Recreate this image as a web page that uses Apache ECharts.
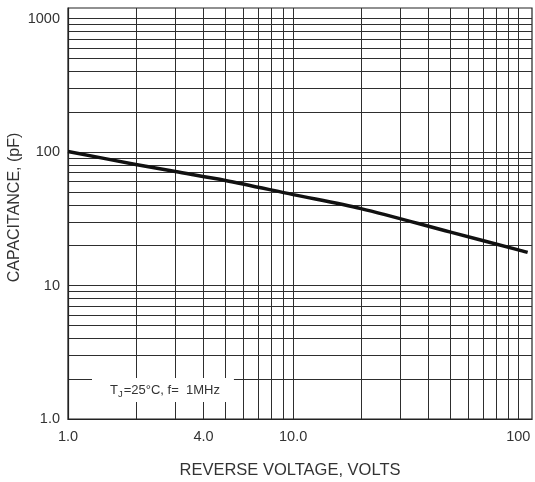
<!DOCTYPE html>
<html>
<head>
<meta charset="utf-8">
<script src="https://cdn.jsdelivr.net/npm/echarts@6/dist/echarts.min.js"></script>
<style>
  html, body { margin: 0; padding: 0; background: #fff; }
  #chart { width: 535px; height: 482px; }
</style>
</head>
<body>
<div id="chart"></div>
<script>
// Reverse voltage (V) and junction capacitance (pF), log-log
const voltage = [1, 2, 3, 5, 10, 20, 50, 100, 110];
const capacitance = [101, 80.7, 71.4, 61.3, 48, 37.7, 25.1, 18.5, 17.7];

// Graph-paper grid lines
const xGridValues = [1, 2, 3, 4, 5, 6, 7, 8, 9, 10, 20, 30, 40, 50, 60, 70, 80, 90, 100];
const yGridValues = [1, 2, 3, 4, 5, 6, 7, 8, 9, 10, 20, 30, 40, 50, 60, 70, 80, 90,
                     100, 200, 300, 400, 500, 600, 700, 800, 900, 1000];

// Labelled ticks
const xTickValues = [1, 4, 10, 100];
const xTickLabels = ['1.0', '4.0', '10.0', '100'];
const yTickValues = [1, 10, 100, 1000];
const yTickLabels = ['1.0', '10', '100', '1000'];

const FONT = '"Liberation Sans", Arial, Helvetica, sans-serif';
const GRID_LINE = { color: '#2e2e2e', width: 1 };

const chart = echarts.init(document.getElementById('chart'), null, { renderer: 'canvas' });

chart.setOption({
  animation: false,
  backgroundColor: '#fff',
  grid: {
    left: 68, right: 3, top: 8, bottom: 63,
    containLabel: false,
    outerBoundsMode: 'none',
    show: true, borderColor: '#222', borderWidth: 1.2
  },
  xAxis: {
    type: 'log',
    logBase: 10,
    min: 1,
    max: 115,
    name: 'REVERSE VOLTAGE, VOLTS',
    nameLocation: 'middle',
    nameGap: 43,
    nameMoveOverlap: false,
    nameTextStyle: { fontFamily: FONT, fontSize: 16.5, color: '#333', padding: [0, 20, 0, 0] },
    axisLine: { show: true, lineStyle: { color: '#222', width: 1.2 } },
    axisTick: { show: false, customValues: xGridValues },
    splitLine: { show: true, lineStyle: GRID_LINE },
    axisLabel: {
      customValues: xTickValues,
      formatter: v => xTickLabels[xTickValues.indexOf(v)] ?? '',
      fontFamily: FONT, fontSize: 14.5, color: '#333', margin: 10
    }
  },
  yAxis: {
    type: 'log',
    logBase: 10,
    min: 1,
    max: 1200,
    name: 'CAPACITANCE, (pF)',
    nameLocation: 'middle',
    nameGap: 45,
    nameMoveOverlap: false,
    nameTextStyle: { fontFamily: FONT, fontSize: 16, color: '#333', padding: [0, 0, 0, 12] },
    axisLine: { show: true, lineStyle: { color: '#222', width: 1.2 } },
    axisTick: { show: false, customValues: yGridValues },
    splitLine: { show: true, lineStyle: GRID_LINE },
    axisLabel: {
      customValues: yTickValues,
      formatter: v => yTickLabels[yTickValues.indexOf(v)] ?? '',
      fontFamily: FONT, fontSize: 14.5, color: '#333', margin: 8
    }
  },
  series: [{
    type: 'line',
    data: voltage.map((v, i) => [v, capacitance[i]]),
    smooth: 0.3,
    showSymbol: false,
    lineStyle: { color: '#111', width: 3.5 },
    z: 5
  }],
  graphic: [{
    type: 'text',
    left: 92,
    top: 378,
    z: 10,
    style: {
      text: '{t|T}{s|J}{t|=25°C, f=  1MHz}',
      backgroundColor: '#fff',
      padding: [3, 14, 3, 18],
      rich: {
        t: { fontFamily: FONT, fontSize: 13, fill: '#333' },
        s: { fontFamily: FONT, fontSize: 9.5, fill: '#333', padding: [8, 1, 0, 0] }
      }
    }
  }]
});
</script>
</body>
</html>
